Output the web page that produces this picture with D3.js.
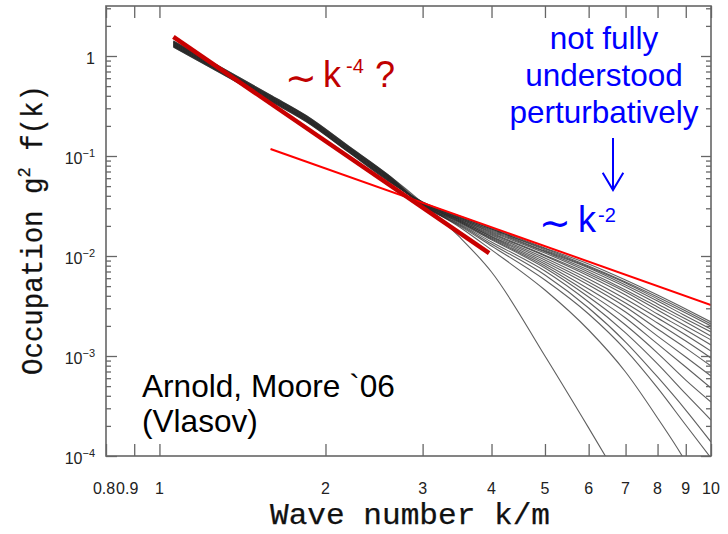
<!DOCTYPE html>
<html>
<head>
<meta charset="utf-8">
<script src="https://cdn.jsdelivr.net/npm/d3@7"></script>
<style>
  body { margin: 0; background: #fff; }
  svg { display: block; }
</style>
</head>
<body>
<svg id="chart" width="728" height="534"></svg>
<script>
// Wave numbers k/m at which each spectrum is sampled
const kGrid = [1.06, 1.3, 1.6, 1.85, 2.2, 2.6, 3, 3.5, 4, 5, 6, 7, 8, 9, 10];

// Occupation g^2 f(k) at successive times (latest first, earliest last)
const spectra = [
  [1.230, 0.661, 0.347, 0.219, 0.110, 0.0562, 0.0347, 0.0251, 0.0191, 0.0120, 0.00832, 0.00575, 0.00407, 0.00295, 0.00219],
  [1.230, 0.661, 0.347, 0.219, 0.110, 0.0562, 0.0347, 0.0245, 0.0186, 0.0118, 0.00794, 0.00550, 0.00389, 0.00282, 0.00209],
  [1.259, 0.676, 0.355, 0.224, 0.112, 0.0575, 0.0339, 0.0245, 0.0186, 0.0115, 0.00776, 0.00537, 0.00372, 0.00269, 0.00200],
  [1.259, 0.676, 0.355, 0.224, 0.112, 0.0575, 0.0339, 0.0240, 0.0182, 0.0112, 0.00759, 0.00513, 0.00355, 0.00251, 0.00186],
  [1.259, 0.676, 0.355, 0.224, 0.112, 0.0575, 0.0339, 0.0240, 0.0178, 0.0110, 0.00724, 0.00490, 0.00331, 0.00234, 0.00174],
  [1.288, 0.692, 0.363, 0.229, 0.115, 0.0589, 0.0339, 0.0234, 0.0174, 0.0107, 0.00692, 0.00457, 0.00309, 0.00219, 0.00158],
  [1.288, 0.692, 0.363, 0.229, 0.115, 0.0589, 0.0331, 0.0234, 0.0170, 0.0102, 0.00661, 0.00437, 0.00288, 0.00200, 0.00145],
  [1.288, 0.692, 0.363, 0.229, 0.115, 0.0589, 0.0331, 0.0229, 0.0166, 0.0100, 0.00631, 0.00407, 0.00263, 0.00182, 0.00129],
  [1.318, 0.708, 0.372, 0.234, 0.118, 0.0603, 0.0331, 0.0229, 0.0162, 0.00955, 0.00589, 0.00372, 0.00240, 0.00162, 0.00112],
  [1.318, 0.708, 0.372, 0.234, 0.118, 0.0603, 0.0331, 0.0224, 0.0158, 0.00912, 0.00550, 0.00339, 0.00214, 0.00141, 0.000955],
  [1.318, 0.708, 0.372, 0.234, 0.118, 0.0603, 0.0331, 0.0224, 0.0155, 0.00871, 0.00513, 0.00309, 0.00186, 0.00120, 0.000794],
  [1.349, 0.724, 0.380, 0.240, 0.120, 0.0617, 0.0324, 0.0219, 0.0151, 0.00832, 0.00468, 0.00275, 0.00158, 0.000977, 0.000631],
  [1.349, 0.724, 0.380, 0.240, 0.120, 0.0617, 0.0324, 0.0219, 0.0148, 0.00794, 0.00427, 0.00240, 0.00132, 0.000776, 0.000479],
  [1.349, 0.724, 0.380, 0.240, 0.120, 0.0617, 0.0324, 0.0214, 0.0145, 0.00759, 0.00389, 0.00204, 0.00107, 0.000575, 0.000347],
  [1.380, 0.741, 0.389, 0.246, 0.123, 0.0631, 0.0324, 0.0209, 0.0138, 0.00708, 0.00347, 0.00170, 0.000832, 0.000417, 0.000229],
  [1.380, 0.741, 0.389, 0.246, 0.123, 0.0631, 0.0324, 0.0204, 0.0132, 0.00646, 0.00302, 0.00138, 0.000617, 0.000288, 0.000138],
  [1.380, 0.741, 0.389, 0.246, 0.123, 0.0631, 0.0324, 0.0200, 0.0126, 0.00575, 0.00263, 0.00115, 0.000479, 0.000204, 0.0000955],
  [1.413, 0.759, 0.398, 0.251, 0.126, 0.0646, 0.0331, 0.0195, 0.0115, 0.00457, 0.00182, 0.000692, 0.000240, 0.0000871, 0.0000288],
  [1.413, 0.759, 0.398, 0.251, 0.126, 0.0646, 0.0339, 0.0155, 0.00692, 0.00100, 0.000191, 0.0000457]
];

// Power-law guides: steep k^-4 fit and the k^-2 tail
const steepFitK = [1.06, 3.96];
const steepFitF = [1.55, 0.0107];
const tailFitK = [1.59, 10];
const tailFitF = [0.1175, 0.00324];

// Axis ticks
const xTickValues = [0.8, 0.9, 1, 2, 3, 4, 5, 6, 7, 8, 9, 10];
const xTickLabels = ["0.8", "0.9", "1", "2", "3", "4", "5", "6", "7", "8", "9", "10"];
const yDecades = [1, 0.1, 0.01, 0.001, 0.0001];
const yDecadeExponents = ["", "\u22121", "\u22122", "\u22123", "\u22124"];

const svg = d3.select("#chart");
const plot = { left: 106, right: 711, top: 6, bottom: 456 };

const x = d3.scaleLog().domain([0.8, 10]).range([plot.left, plot.right]);
const y = d3.scaleLog().domain([1e-4, Math.sqrt(10)]).range([plot.bottom, plot.top]);

svg.append("defs").append("clipPath").attr("id", "plotClip")
  .append("rect")
  .attr("x", plot.left).attr("y", plot.top)
  .attr("width", plot.right - plot.left).attr("height", plot.bottom - plot.top);

const line = d3.line()
  .x(d => x(d[0]))
  .y(d => y(d[1]))
  .curve(d3.curveMonotoneX);

// Spectra
const curves = svg.append("g").attr("clip-path", "url(#plotClip)");
curves.selectAll("path.spectrum")
  .data(spectra)
  .join("path")
  .attr("class", "spectrum")
  .attr("d", vals => line(vals.map((f, i) => [kGrid[i], f])))
  .attr("fill", "none")
  .attr("stroke", "#2a2a2a")
  .attr("stroke-opacity", 0.75)
  .attr("stroke-width", 1.1);

// Fit lines
const straight = d3.line().x(d => x(d[0])).y(d => y(d[1]));
curves.append("path")
  .attr("d", straight(tailFitK.map((k, i) => [k, tailFitF[i]])))
  .attr("fill", "none").attr("stroke", "#ff0000").attr("stroke-width", 2);
curves.append("path")
  .attr("d", straight(steepFitK.map((k, i) => [k, steepFitF[i]])))
  .attr("fill", "none").attr("stroke", "#c80000").attr("stroke-width", 4.5);

// Frame and ticks
const axisColor = "#666";
const minorY = [];
yDecades.forEach(d => { for (let m = 2; m <= 9; m++) { const v = d * m; if (v <= Math.sqrt(10)) minorY.push(v); } });

function styleAxis(g) {
  g.select(".domain").remove();
  g.selectAll("line").attr("stroke", axisColor).attr("stroke-width", 1.3);
  g.selectAll("text").remove();
}
svg.append("g").attr("transform", `translate(${plot.left},0)`)
  .call(d3.axisLeft(y).tickValues(yDecades).tickSize(-11)).call(styleAxis);
svg.append("g").attr("transform", `translate(${plot.left},0)`)
  .call(d3.axisLeft(y).tickValues(minorY).tickSize(-5)).call(styleAxis);
svg.append("g").attr("transform", `translate(${plot.right},0)`)
  .call(d3.axisRight(y).tickValues(yDecades).tickSize(-10)).call(styleAxis);
svg.append("g").attr("transform", `translate(${plot.right},0)`)
  .call(d3.axisRight(y).tickValues(minorY).tickSize(-5)).call(styleAxis);
svg.append("g").attr("transform", `translate(0,${plot.bottom})`)
  .call(d3.axisBottom(x).tickValues(xTickValues).tickSize(-12)).call(styleAxis);
svg.append("g").attr("transform", `translate(0,${plot.top})`)
  .call(d3.axisTop(x).tickValues(xTickValues).tickSize(-12)).call(styleAxis);

svg.append("rect")
  .attr("x", plot.left).attr("y", plot.top)
  .attr("width", plot.right - plot.left).attr("height", plot.bottom - plot.top)
  .attr("fill", "none").attr("stroke", axisColor).attr("stroke-width", 1.6);

// Tick labels
const labelFont = "'Liberation Sans', Arial, sans-serif";
const xLabelShift = { "0.8": -2, "0.9": -7 };
svg.append("g").selectAll("text")
  .data(xTickValues)
  .join("text")
  .attr("x", (v, i) => x(v) + (xLabelShift[xTickLabels[i]] || 0))
  .attr("y", 494)
  .attr("text-anchor", "middle")
  .attr("font-family", labelFont)
  .attr("font-size", 16)
  .attr("fill", "#222")
  .text((v, i) => xTickLabels[i]);

const yLab = svg.append("g").selectAll("text")
  .data(yDecades)
  .join("text")
  .attr("x", 95)
  .attr("y", v => y(v) + 8)
  .attr("text-anchor", "end")
  .attr("font-family", labelFont)
  .attr("font-size", 16)
  .attr("fill", "#222");
yLab.each(function (v, i) {
  const t = d3.select(this);
  if (yDecadeExponents[i] === "") { t.text("1"); return; }
  t.append("tspan").text("10");
  t.append("tspan").attr("font-size", 11).attr("dy", -7).text(yDecadeExponents[i]);
});

// Axis titles
const titleFont = "'Liberation Mono', 'Courier New', monospace";
svg.append("text")
  .attr("x", 410).attr("y", 524)
  .attr("text-anchor", "middle")
  .attr("font-family", titleFont)
  .attr("font-size", 29)
  .attr("textLength", 280).attr("lengthAdjust", "spacingAndGlyphs")
  .attr("fill", "#111")
  .attr("stroke", "#111").attr("stroke-width", 0.25)
  .text("Wave number k/m");

const yTitle = svg.append("text")
  .attr("transform", "translate(42,230) rotate(-90)")
  .attr("text-anchor", "middle")
  .attr("font-family", titleFont)
  .attr("font-size", 29)
  .attr("textLength", 290).attr("lengthAdjust", "spacingAndGlyphs")
  .attr("fill", "#111")
  .attr("stroke", "#111").attr("stroke-width", 0.25);
yTitle.append("tspan").text("Occupation g");
yTitle.append("tspan").attr("font-size", 18).attr("dy", -12).text("2");
yTitle.append("tspan").attr("dy", 12).text(" f(k)");

// Annotations
const annFont = "'Liberation Sans', Arial, sans-serif";
const tildeFont = "'DejaVu Sans', sans-serif";

svg.append("text").attr("x", 285).attr("y", 91).attr("font-family", tildeFont)
  .attr("font-size", 38).attr("fill", "#c00000").text("\u223C");
const redNote = svg.append("text").attr("font-family", annFont).attr("fill", "#c00000").attr("y", 87);
redNote.append("tspan").attr("x", 323).attr("font-size", 36).text("k");
redNote.append("tspan").attr("x", 346).attr("dy", -14).attr("font-size", 20).text("-4");
redNote.append("tspan").attr("x", 375).attr("dy", 14).attr("font-size", 36).text("?");

const blueNote = svg.append("text").attr("font-family", annFont).attr("fill", "#0000ff")
  .attr("text-anchor", "middle").attr("font-size", 31.5);
[["not fully", 49], ["understood", 86], ["perturbatively", 123]].forEach(([s, yy]) => {
  blueNote.append("tspan").attr("x", 604).attr("y", yy).text(s);
});

svg.append("path")
  .attr("d", "M613,138 L613,189 M602.7,172.7 L613,190 L623.3,172.7")
  .attr("fill", "none").attr("stroke", "#0000ff").attr("stroke-width", 2);

svg.append("text").attr("x", 539).attr("y", 236).attr("font-family", tildeFont)
  .attr("font-size", 38).attr("fill", "#0000ff").text("\u223C");
const blueSlope = svg.append("text").attr("font-family", annFont).attr("fill", "#0000ff").attr("y", 232);
blueSlope.append("tspan").attr("x", 578).attr("font-size", 36).text("k");
blueSlope.append("tspan").attr("x", 598).attr("dy", -10).attr("font-size", 20).text("-2");

const credit = svg.append("text").attr("font-family", annFont).attr("fill", "#000").attr("font-size", 31.6);
credit.append("tspan").attr("x", 142).attr("y", 397).text("Arnold, Moore `06");
credit.append("tspan").attr("x", 142).attr("y", 432).text("(Vlasov)");
</script>
</body>
</html>
